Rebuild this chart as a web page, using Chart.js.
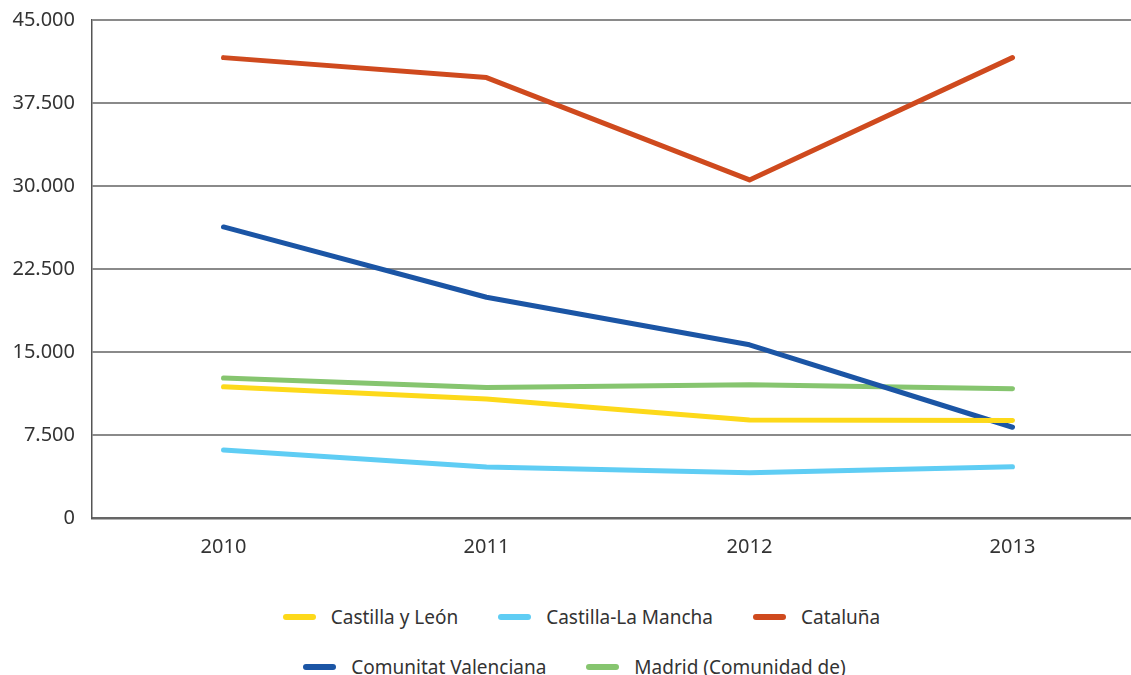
<!DOCTYPE html>
<html>
<head>
<meta charset="utf-8">
<script src="https://cdn.jsdelivr.net/npm/chart.js@4/dist/chart.umd.min.js"></script>
<style>
  html, body { margin: 0; padding: 0; background: #fff; overflow: hidden; width: 1131px; height: 675px; }
  #wrap { position: absolute; left: 0; top: -9px; width: 1144px; height: 571px; }
  #legend { position: absolute; left: 0; top: 600px; width: 1163px; font-family: "Noto Sans", sans-serif; font-size: 19px; color: #333; }
  .row { display: flex; justify-content: center; align-items: center; height: 34px; margin-bottom: 16px; }
  .row.second { padding-right: 14px; }
  .item { display: flex; align-items: center; margin-right: 40px; white-space: nowrap; }
  .item:last-child { margin-right: 0; }
  .swatch { width: 33px; height: 6px; border-radius: 3px; margin-right: 15px; }
</style>
</head>
<body>
<div id="wrap"><canvas id="chart" width="1144" height="571"></canvas></div>
<div id="legend"></div>
<script>
const years = ["2010", "2011", "2012", "2013"];
const seriesNames = ["Castilla y León", "Castilla-La Mancha", "Cataluña", "Comunitat Valenciana", "Madrid (Comunidad de)"];
const castillaLeon = [11850, 10750, 8850, 8800];
const castillaLaMancha = [6150, 4600, 4080, 4620];
const cataluna = [41600, 39800, 30550, 41600];
const valenciana = [26300, 19950, 15650, 8200];
const madrid = [12650, 11800, 12050, 11680];
const seriesColors = ["#fdd91a", "#5fcdf4", "#cf4a1e", "#1b55a5", "#86c56f"];
const yTicks = { min: 0, max: 45000, step: 7500 };

function fmt(v) {
  return String(v).replace(/\B(?=(\d{3})+(?!\d))/g, ".");
}

(function () {
  const values = [castillaLeon, castillaLaMancha, cataluna, valenciana, madrid];
  const datasets = seriesNames.map((name, i) => ({
    label: name,
    data: values[i],
    borderColor: seriesColors[i],
    backgroundColor: seriesColors[i],
    borderWidth: 5,
    borderCapStyle: "round",
    borderJoinStyle: "round",
    pointRadius: 0,
    tension: 0,
    fill: false
  }));

  const font = { family: "Noto Sans", size: 20 };

  new Chart(document.getElementById("chart").getContext("2d"), {
    type: "line",
    data: { labels: years, datasets: datasets },
    options: {
      responsive: false,
      animation: false,
      layout: { padding: { top: 4, right: 0, left: 0, bottom: 0 } },
      plugins: { legend: { display: false }, tooltip: { enabled: false } },
      scales: {
        x: {
          offset: true,
          grid: { display: false, drawTicks: false },
          border: { display: true, color: "#666", width: 2.5 },
          ticks: { color: "#333", font: font, padding: 17 },
          afterFit: (s) => { s.height = 44; }
        },
        y: {
          min: yTicks.min,
          max: yTicks.max,
          grid: { color: "#8a8a8a", lineWidth: 2, drawTicks: false },
          border: { display: true, color: "#555", width: 1.5 },
          ticks: { stepSize: yTicks.step, color: "#333", font: font, padding: 17, callback: (v) => fmt(v) },
          afterFit: (s) => { s.width = 92; }
        }
      }
    }
  });

  // legend in two rows like the original
  const rows = [[0, 1, 2], [3, 4]];
  const legend = document.getElementById("legend");
  rows.forEach((r, n) => {
    const row = document.createElement("div");
    row.className = n === 1 ? "row second" : "row";
    r.forEach((i) => {
      const item = document.createElement("div");
      item.className = "item";
      const sw = document.createElement("span");
      sw.className = "swatch";
      sw.style.background = seriesColors[i];
      const t = document.createElement("span");
      t.textContent = seriesNames[i];
      item.appendChild(sw);
      item.appendChild(t);
      row.appendChild(item);
    });
    legend.appendChild(row);
  });
})();
</script>
</body>
</html>
